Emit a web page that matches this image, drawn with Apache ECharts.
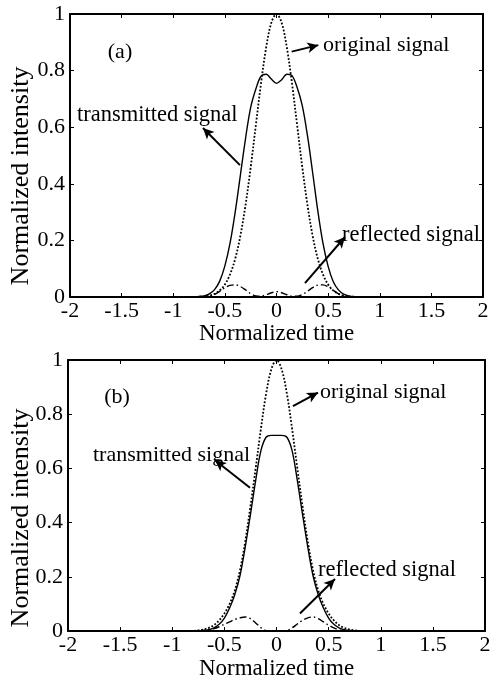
<!DOCTYPE html>
<html>
<head>
<meta charset="utf-8">
<script src="https://cdn.jsdelivr.net/npm/echarts@6/dist/echarts.min.js"></script>
<style>
html,body{margin:0;padding:0;background:#fff;}
#main{width:497px;height:681px;}
</style>
</head>
<body>
<div id="main"></div>
<script>
// normalized time samples (shared by all curves)
var times = [-2,-0.8,-0.75,-0.7,-0.65,-0.6,-0.55,-0.5,-0.45,-0.4,-0.35,-0.3,-0.25,-0.2,-0.15,-0.1,-0.05,0,
	0.05,0.1,0.15,0.2,0.25,0.3,0.35,0.4,0.45,0.5,0.55,0.6,0.65,0.7,0.75,0.8,2];
// (a)
var origA = [0,0,0.001,0.002,0.005,0.011,0.023,0.044,0.08,0.135,0.216,0.325,0.458,0.607,0.755,0.882,0.969,1,
	0.969,0.882,0.755,0.607,0.458,0.325,0.216,0.135,0.08,0.044,0.023,0.011,0.005,0.002,0.001,0,0];
var transA = [0,0,0.002,0.004,0.011,0.026,0.056,0.11,0.19,0.3,0.43,0.56,0.67,0.735,0.78,0.787,0.77,0.755,
	0.768,0.787,0.782,0.74,0.675,0.57,0.44,0.305,0.19,0.108,0.054,0.025,0.01,0.004,0.001,0,0];
var reflA = [0,0,0,0.001,0.003,0.009,0.02,0.033,0.041,0.043,0.037,0.025,0.012,0.004,0.003,0.008,0.015,0.019,
	0.015,0.008,0.003,0.003,0.009,0.02,0.033,0.042,0.043,0.036,0.024,0.011,0.004,0.001,0,0,0];
// (b)
var origB = [0,0.001,0.003,0.006,0.012,0.022,0.04,0.065,0.1,0.15,0.225,0.33,0.46,0.6,0.745,0.875,0.965,1,
	0.965,0.875,0.745,0.6,0.46,0.33,0.225,0.15,0.1,0.065,0.04,0.022,0.012,0.006,0.003,0.001,0];
var transB = [0,0,0.001,0.002,0.005,0.012,0.025,0.048,0.085,0.135,0.205,0.31,0.43,0.555,0.665,0.715,0.722,0.722,
	0.722,0.715,0.665,0.555,0.43,0.31,0.205,0.135,0.085,0.048,0.025,0.012,0.005,0.002,0.001,0,0];
var reflB = [0,0,0.001,0.002,0.005,0.009,0.016,0.025,0.034,0.043,0.049,0.052,0.046,0.03,0.013,0.002,0,0,
	0,0.002,0.012,0.026,0.04,0.049,0.052,0.046,0.034,0.022,0.012,0.005,0.002,0.001,0,0,0];
var xTicks = {min:-2,max:2,interval:0.5};
var yTicks = {min:0,max:1,interval:0.2};

var SERIF = '"Liberation Serif","Times New Roman",serif';
var pairs = function(arr){
	return times.map(function(t,i){ return [t,arr[i]]; });
};

var xAxisOf = function(gi,pos,gap){
	return {
		gridIndex:gi, type:'value', position:pos,
		min:xTicks.min, max:xTicks.max, interval:xTicks.interval,
		axisLine:{onZero:false,lineStyle:{color:'#000',width:2}},
		axisTick:{inside:true,length:4,lineStyle:{color:'#000',width:1}},
		axisLabel:{show:pos=='bottom',color:'#000',fontFamily:SERIF,fontSize:22,margin:3},
		splitLine:{show:false},
		name:pos=='bottom'?'Normalized time':'',
		nameLocation:'middle', nameGap:gap,
		nameTextStyle:{color:'#000',fontFamily:SERIF,fontSize:23}
	};
};
var yAxisOf = function(gi,pos){
	return {
		gridIndex:gi, type:'value', position:pos,
		min:yTicks.min, max:yTicks.max, interval:yTicks.interval,
		axisLine:{onZero:false,lineStyle:{color:'#000',width:2}},
		axisTick:{inside:true,length:4,lineStyle:{color:'#000',width:1}},
		axisLabel:{show:pos=='left',color:'#000',fontFamily:SERIF,fontSize:22,margin:5},
		splitLine:{show:false}
	};
};

var arrow = function(a,b){
	return [{coord:a},{coord:b}];
};
var lineSeries = function(name,gi,arr,type,arrows){
	var s = {
		name:name, type:'line', xAxisIndex:gi*2, yAxisIndex:gi*2,
		data:pairs(arr), smooth:0.35, symbol:'none', animation:false,
		lineStyle:{color:'#000',width:type=='dotted'?1.8:1.4,type:type}
	};
	if(arrows){
		s.markLine = {
			silent:true, animation:false, symbol:['none','arrow'], symbolSize:[8,11],
			label:{show:false},
			lineStyle:{color:'#000',width:2,type:'solid'},
			data:arrows
		};
	}
	return s;
};

var chart = echarts.init(document.getElementById('main'),null,{renderer:'canvas'});
var txt = function(s,x,y,size,align){
	return {type:'text',x:x,y:y,silent:true,
		style:{text:s,fill:'#000',font:size+'px '+SERIF,textAlign:align||'left',textVerticalAlign:'middle'}};
};
var option = {
	backgroundColor:'#fff',
	grid:[
		{left:70,top:14,width:413,height:283},
		{left:68,top:360,width:417,height:276}
	],
	xAxis:[xAxisOf(0,'bottom',23),xAxisOf(0,'top',0),xAxisOf(1,'bottom',22),xAxisOf(1,'top',0)],
	yAxis:[yAxisOf(0,'left'),yAxisOf(0,'right'),yAxisOf(1,'left'),yAxisOf(1,'right')],
	series:[
		lineSeries('original signal',0,origA,'dotted',[arrow([0.147,0.867],[0.405,0.89])]),
		lineSeries('transmitted signal',0,transA,'solid',[arrow([-0.354,0.466],[-0.712,0.597])]),
		lineSeries('reflected signal',0,reflA,[7,3,1.5,3],[arrow([0.276,0.049],[0.663,0.212])]),
		lineSeries('original signal',1,origB,'dotted',[arrow([0.158,0.83],[0.398,0.88])]),
		lineSeries('transmitted signal',1,transB,'solid',[arrow([-0.254,0.529],[-0.59,0.63])]),
		lineSeries('reflected signal',1,reflB,[7,3,1.5,3],[arrow([0.225,0.065],[0.561,0.192])])
	],
	graphic:[
		txt('(a)',120,52,22,'center'),
		txt('original signal',323,45,22),
		txt('transmitted signal',77,115,22.5),
		txt('reflected signal',342,235,22.5),
		txt('(b)',117,397,22,'center'),
		txt('original signal',320,392,22),
		txt('transmitted signal',93,455,22),
		txt('reflected signal',318,570,22.5),
		{type:'text',x:21,y:176,rotation:Math.PI/2,silent:true,
			style:{text:'Normalized intensity',fill:'#000',font:'26px '+SERIF,textAlign:'center',textVerticalAlign:'middle'}},
		{type:'text',x:21,y:518,rotation:Math.PI/2,silent:true,
			style:{text:'Normalized intensity',fill:'#000',font:'26px '+SERIF,textAlign:'center',textVerticalAlign:'middle'}}
	]
};
chart.setOption(option);
</script>
</body>
</html>
